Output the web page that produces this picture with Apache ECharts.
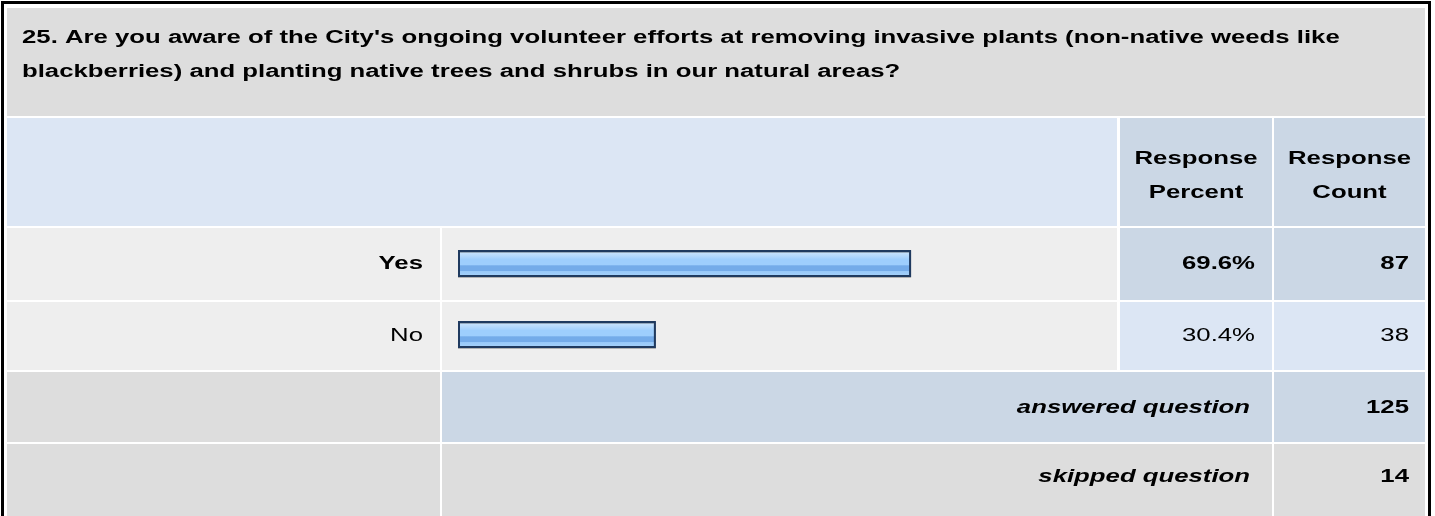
<!DOCTYPE html>
<html>
<head>
<meta charset="utf-8">
<title>Question 25</title>
<script src="https://cdn.jsdelivr.net/npm/echarts@6/dist/echarts.min.js"></script>
<style>
  html, body { margin: 0; padding: 0; background: #fff; }
  #chart { width: 1435px; height: 516px; }
</style>
</head>
<body>
<div id="chart"></div>
<script>
// survey data
const titleLines = [
  "25. Are you aware of the City's ongoing volunteer efforts at removing invasive plants (non-native weeds like",
  "blackberries) and planting native trees and shrubs in our natural areas?"
];
const headerPercent = ["Response", "Percent"];
const headerCount = ["Response", "Count"];
const categories = ["Yes", "No"];
const percents = [69.6, 30.4];
const counts = [87, 38];
const answered = 125;
const skipped = 14;

const FONT = '"Liberation Sans", Arial, sans-serif';
const SX = 1.43; // the original table text is stretched sideways

// column edges
const colLabel = [7, 440];
const colBar = [442, 1117];
const colPct = [1120, 1272];
const colCnt = [1274, 1425];
// row edges
const rowTitle = [8, 116];
const rowHead = [118, 226];
const rowData = [[228, 300], [302, 370]];
const rowAns = [372, 442];
const rowSkip = [444, 530];

function cell(x0, x1, y0, y1, color) {
  return { type: "rect", silent: true, z: 1,
    shape: { x: x0, y: y0, width: x1 - x0, height: y1 - y0 },
    style: { fill: color } };
}

function txt(x, y, s, opt) {
  opt = opt || {};
  return { type: "text", silent: true, z: 10, x: x, y: y, scaleX: SX,
    style: { text: s, x: 0, y: 0, fill: "#000",
      fontFamily: FONT, fontSize: opt.size || 18,
      fontWeight: opt.bold ? "bold" : "normal",
      fontStyle: opt.italic ? "italic" : "normal",
      align: opt.align || "left", verticalAlign: "middle" } };
}

const BLUE_L = "#dce6f4";
const BLUE_D = "#cbd7e5";
const GRAY = "#dddddd";
const LIGHT = "#eeeeee";

let g = [];
// outer frame
g.push({ type: "rect", silent: true, z: 0,
  shape: { x: 2.5, y: 2.5, width: 1427, height: 530 },
  style: { fill: "#fff", stroke: "#000", lineWidth: 3 } });
// title
g.push(cell(colLabel[0], colCnt[1], rowTitle[0], rowTitle[1], GRAY));
g.push(txt(22, 38, titleLines[0], { bold: true }));
g.push(txt(22, 72, titleLines[1], { bold: true }));
// header
g.push(cell(colLabel[0], colBar[1], rowHead[0], rowHead[1], BLUE_L));
g.push(cell(colPct[0], colPct[1], rowHead[0], rowHead[1], BLUE_D));
g.push(cell(colCnt[0], colCnt[1], rowHead[0], rowHead[1], BLUE_D));
const pc = (colPct[0] + colPct[1]) / 2, cc = (colCnt[0] + colCnt[1]) / 2;
g.push(txt(pc, 159, headerPercent[0], { bold: true, align: "center" }));
g.push(txt(pc, 193, headerPercent[1], { bold: true, align: "center" }));
g.push(txt(cc, 159, headerCount[0], { bold: true, align: "center" }));
g.push(txt(cc, 193, headerCount[1], { bold: true, align: "center" }));
// answer rows
const maxIdx = counts.indexOf(Math.max.apply(null, counts));
categories.forEach(function (c, i) {
  const r = rowData[i];
  const top = i === maxIdx;
  const yc = (r[0] + r[1]) / 2;
  g.push(cell(colLabel[0], colLabel[1], r[0], r[1], LIGHT));
  g.push(cell(colBar[0], colBar[1], r[0], r[1], LIGHT));
  g.push(cell(colPct[0], colPct[1], r[0], r[1], top ? BLUE_D : BLUE_L));
  g.push(cell(colCnt[0], colCnt[1], r[0], r[1], top ? BLUE_D : BLUE_L));
  g.push(txt(423, yc, c, { bold: top, align: "right" }));
  g.push(txt(1255, yc, percents[i].toFixed(1) + "%", { bold: top, align: "right" }));
  g.push(txt(1409, yc, String(counts[i]), { bold: top, align: "right" }));
});
// answered
g.push(cell(colLabel[0], colLabel[1], rowAns[0], rowAns[1], GRAY));
g.push(cell(colBar[0], colPct[1], rowAns[0], rowAns[1], BLUE_D));
g.push(cell(colCnt[0], colCnt[1], rowAns[0], rowAns[1], BLUE_D));
g.push(txt(1250, 408, "answered question", { bold: true, italic: true, align: "right" }));
g.push(txt(1409, 408, String(answered), { bold: true, align: "right" }));
// skipped
g.push(cell(colLabel[0], colLabel[1], rowSkip[0], rowSkip[1], GRAY));
g.push(cell(colBar[0], colPct[1], rowSkip[0], rowSkip[1], GRAY));
g.push(cell(colCnt[0], colCnt[1], rowSkip[0], rowSkip[1], GRAY));
g.push(txt(1250, 477, "skipped question", { bold: true, italic: true, align: "right" }));
g.push(txt(1409, 477, String(skipped), { bold: true, align: "right" }));

const chart = echarts.init(document.getElementById("chart"));
chart.setOption({
  animation: false,
  backgroundColor: "#fff",
  graphic: { elements: g },
  grid: { left: 458, width: 651, top: 228, height: 142 },
  xAxis: { type: "value", min: 0, max: 100, show: false },
  yAxis: { type: "category", data: categories, inverse: true, show: false },
  series: [{
    type: "bar",
    data: percents,
    barWidth: 27,
    z: 20,
    itemStyle: {
      borderColor: "#1f3a5f",
      borderWidth: 2,
      shadowColor: "rgba(0,0,0,0.25)",
      shadowOffsetY: 1,
      color: new echarts.graphic.LinearGradient(0, 0, 0, 1, [
        { offset: 0, color: "#d4e9fd" },
        { offset: 0.2, color: "#b7dafc" },
        { offset: 0.35, color: "#9ecefd" },
        { offset: 0.56, color: "#9ecefd" },
        { offset: 0.58, color: "#74abe9" },
        { offset: 0.76, color: "#74abe9" },
        { offset: 0.78, color: "#97c8f8" },
        { offset: 1, color: "#a8d3fb" }
      ])
    }
  }]
});
</script>
</body>
</html>
